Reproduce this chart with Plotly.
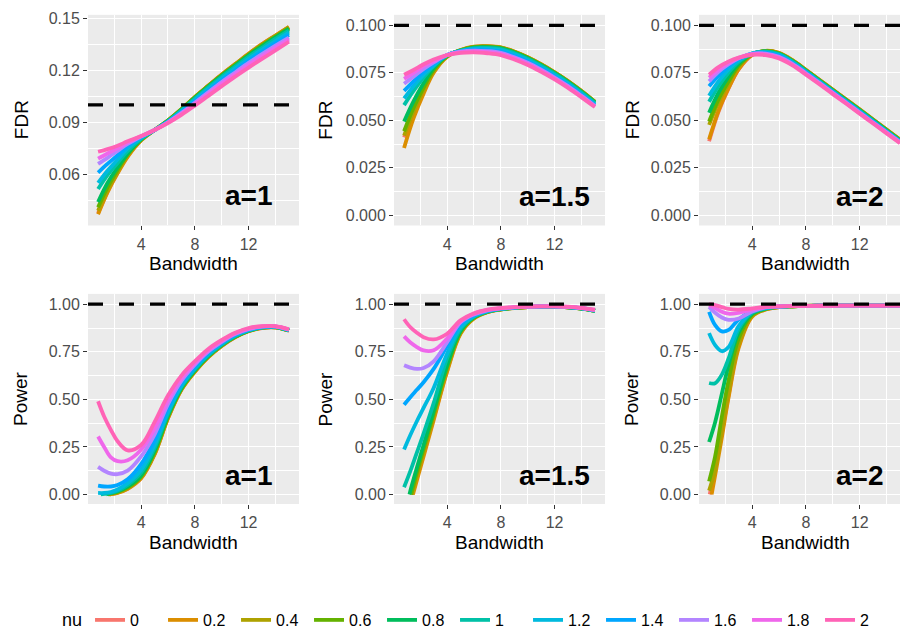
import plotly.graph_objects as go

# ---------------- data ----------------
NU = ["0", "0.2", "0.4", "0.6", "0.8", "1", "1.2", "1.4", "1.6", "1.8", "2"]
COLORS = ["#F8766D", "#DB8E00", "#AEA200", "#64B200", "#00BD5C", "#00C1A7",
          "#00BADE", "#00A6FF", "#B385FF", "#EF67EB", "#FF63B6"]

BW_FDR = [0.8, 1.5, 2.25, 3, 4, 5, 6, 7, 8, 9, 10, 11, 12, 13, 14, 15]
BW_POW = [0.8, 1.25, 1.75, 2.25, 3, 4, 5, 6, 7, 8, 9, 10, 11, 12, 13, 14, 15]

FDR_A1 = [
    [0.0375, 0.050, 0.061, 0.0705, 0.0795, 0.0855, 0.091, 0.0975, 0.1045, 0.111, 0.1175, 0.1235, 0.1295, 0.135, 0.140, 0.1448],
    [0.037, 0.0495, 0.0605, 0.070, 0.0795, 0.0855, 0.091, 0.0975, 0.1045, 0.111, 0.1175, 0.1235, 0.1295, 0.135, 0.140, 0.145],
    [0.039, 0.051, 0.0615, 0.071, 0.0798, 0.0855, 0.091, 0.0975, 0.1045, 0.111, 0.1173, 0.1233, 0.1292, 0.1347, 0.1398, 0.1447],
    [0.041, 0.0525, 0.0625, 0.0715, 0.080, 0.0855, 0.091, 0.0974, 0.1043, 0.1108, 0.1171, 0.123, 0.1289, 0.1343, 0.1394, 0.1443],
    [0.044, 0.055, 0.064, 0.072, 0.0802, 0.0855, 0.0908, 0.0972, 0.104, 0.1105, 0.1168, 0.1226, 0.1285, 0.1338, 0.1389, 0.1438],
    [0.0515, 0.0595, 0.0665, 0.0735, 0.0805, 0.0855, 0.0906, 0.0968, 0.1035, 0.110, 0.1161, 0.1219, 0.1277, 0.1329, 0.138, 0.1428],
    [0.055, 0.062, 0.0685, 0.075, 0.081, 0.0855, 0.0904, 0.0963, 0.1028, 0.1091, 0.1152, 0.1209, 0.1266, 0.1318, 0.1368, 0.1416],
    [0.061, 0.066, 0.071, 0.0765, 0.0815, 0.0855, 0.0902, 0.0958, 0.1021, 0.1082, 0.1142, 0.1198, 0.1254, 0.1306, 0.1355, 0.1403],
    [0.066, 0.0695, 0.0735, 0.0775, 0.0818, 0.0855, 0.090, 0.0953, 0.1013, 0.1073, 0.1132, 0.1187, 0.1242, 0.1293, 0.1342, 0.1388],
    [0.069, 0.072, 0.075, 0.0785, 0.082, 0.0855, 0.0898, 0.0948, 0.1005, 0.1063, 0.1121, 0.1176, 0.123, 0.128, 0.1329, 0.1376],
    [0.073, 0.0745, 0.0765, 0.079, 0.082, 0.0855, 0.0895, 0.0942, 0.0996, 0.1052, 0.1108, 0.1163, 0.1215, 0.1265, 0.1314, 0.1364],
]

FDR_A15 = [
    [0.041, 0.054, 0.0655, 0.0755, 0.0835, 0.0868, 0.0886, 0.0889, 0.0883, 0.0861, 0.0831, 0.0794, 0.0752, 0.0706, 0.0654, 0.0597],
    [0.0355, 0.051, 0.064, 0.075, 0.0835, 0.087, 0.0888, 0.089, 0.0884, 0.0862, 0.0832, 0.0795, 0.0753, 0.0707, 0.0655, 0.0598],
    [0.042, 0.0545, 0.066, 0.076, 0.0837, 0.0869, 0.0887, 0.0889, 0.0883, 0.0861, 0.0831, 0.0794, 0.0752, 0.0706, 0.0654, 0.0597],
    [0.0443, 0.0565, 0.0672, 0.0765, 0.0838, 0.0868, 0.0885, 0.0887, 0.0881, 0.0859, 0.0829, 0.0792, 0.075, 0.0704, 0.0652, 0.0596],
    [0.0494, 0.060, 0.0695, 0.0775, 0.084, 0.0867, 0.0883, 0.0885, 0.0879, 0.0857, 0.0827, 0.079, 0.0748, 0.0702, 0.065, 0.0594],
    [0.058, 0.0655, 0.0725, 0.0785, 0.0842, 0.0866, 0.088, 0.0881, 0.0875, 0.0853, 0.0823, 0.0786, 0.0744, 0.0698, 0.0646, 0.059],
    [0.0615, 0.068, 0.074, 0.079, 0.0843, 0.0865, 0.0876, 0.0876, 0.0869, 0.0847, 0.0817, 0.078, 0.0738, 0.0692, 0.064, 0.0585],
    [0.0655, 0.0705, 0.0755, 0.0797, 0.0844, 0.0863, 0.0872, 0.087, 0.0862, 0.0839, 0.081, 0.0773, 0.0731, 0.0686, 0.0634, 0.058],
    [0.0693, 0.073, 0.077, 0.0805, 0.0844, 0.0861, 0.0867, 0.0864, 0.0855, 0.0832, 0.0803, 0.0766, 0.0725, 0.068, 0.0629, 0.0576],
    [0.0718, 0.075, 0.0785, 0.0812, 0.0844, 0.0858, 0.0863, 0.0859, 0.0849, 0.0826, 0.0797, 0.0761, 0.072, 0.0675, 0.0625, 0.0573],
    [0.074, 0.0765, 0.0795, 0.082, 0.0843, 0.0855, 0.0858, 0.0853, 0.0843, 0.082, 0.0791, 0.0755, 0.0715, 0.067, 0.0621, 0.057],
]

FDR_A2 = [
    [0.039, 0.0545, 0.0668, 0.0768, 0.0843, 0.0865, 0.0854, 0.0816, 0.0765, 0.0713, 0.0661, 0.0609, 0.0557, 0.0504, 0.0451, 0.0398],
    [0.040, 0.055, 0.067, 0.077, 0.0845, 0.0866, 0.0855, 0.0817, 0.0766, 0.0714, 0.0662, 0.061, 0.0558, 0.0505, 0.0452, 0.0399],
    [0.0476, 0.0595, 0.0695, 0.0783, 0.0847, 0.0865, 0.0853, 0.0815, 0.0764, 0.0712, 0.066, 0.0608, 0.0556, 0.0503, 0.045, 0.0397],
    [0.0494, 0.061, 0.0705, 0.0788, 0.0848, 0.0864, 0.0852, 0.0814, 0.0763, 0.0711, 0.0659, 0.0607, 0.0555, 0.0502, 0.0449, 0.0396],
    [0.054, 0.0645, 0.073, 0.0798, 0.085, 0.0863, 0.085, 0.0812, 0.0761, 0.0709, 0.0657, 0.0605, 0.0553, 0.050, 0.0447, 0.0394],
    [0.0598, 0.068, 0.0752, 0.0808, 0.0851, 0.0861, 0.0847, 0.0809, 0.0758, 0.0706, 0.0654, 0.0602, 0.055, 0.0497, 0.0444, 0.0391],
    [0.063, 0.0705, 0.0768, 0.0815, 0.0851, 0.0858, 0.0843, 0.0805, 0.0755, 0.0703, 0.0651, 0.0599, 0.0547, 0.0494, 0.0441, 0.0389],
    [0.068, 0.0735, 0.0785, 0.0822, 0.0851, 0.0855, 0.0839, 0.0801, 0.0751, 0.070, 0.0648, 0.0596, 0.0544, 0.0492, 0.0439, 0.0387],
    [0.0705, 0.0755, 0.0795, 0.0826, 0.085, 0.0851, 0.0834, 0.0797, 0.0748, 0.0697, 0.0645, 0.0593, 0.0541, 0.0489, 0.0437, 0.0385],
    [0.0725, 0.0768, 0.0803, 0.0829, 0.0848, 0.0847, 0.083, 0.0793, 0.0744, 0.0694, 0.0642, 0.059, 0.0538, 0.0486, 0.0434, 0.0382],
    [0.074, 0.078, 0.081, 0.083, 0.0845, 0.0843, 0.0825, 0.0789, 0.074, 0.069, 0.0638, 0.0587, 0.0535, 0.0483, 0.0431, 0.038],
]

# power curves; a curve that enters the panel from 0 starts at the given bandwidth
POW_A1_START = [1.6, 1.65, 1.6, 1.5, 1.4, 1.0, None, None, None, None, None]
POW_A1 = [
    [None, None, 0.002, 0.010, 0.030, 0.085, 0.210, 0.400, 0.550, 0.645, 0.722, 0.780, 0.826, 0.858, 0.875, 0.878, 0.861],
    [None, None, 0.002, 0.008, 0.030, 0.085, 0.210, 0.400, 0.550, 0.645, 0.722, 0.781, 0.827, 0.859, 0.876, 0.879, 0.862],
    [None, None, 0.004, 0.011, 0.033, 0.090, 0.215, 0.405, 0.553, 0.647, 0.724, 0.782, 0.828, 0.860, 0.877, 0.879, 0.862],
    [None, None, 0.006, 0.014, 0.037, 0.095, 0.222, 0.410, 0.556, 0.650, 0.726, 0.784, 0.829, 0.860, 0.877, 0.879, 0.862],
    [None, None, 0.008, 0.017, 0.042, 0.100, 0.230, 0.415, 0.560, 0.653, 0.728, 0.786, 0.831, 0.861, 0.878, 0.880, 0.863],
    [None, 0.003, 0.008, 0.020, 0.050, 0.115, 0.245, 0.425, 0.566, 0.658, 0.732, 0.789, 0.833, 0.862, 0.878, 0.880, 0.863],
    [0.008, 0.008, 0.013, 0.026, 0.060, 0.130, 0.260, 0.435, 0.573, 0.664, 0.737, 0.792, 0.836, 0.864, 0.879, 0.881, 0.864],
    [0.047, 0.042, 0.042, 0.050, 0.080, 0.160, 0.285, 0.455, 0.585, 0.673, 0.744, 0.797, 0.839, 0.866, 0.880, 0.882, 0.865],
    [0.145, 0.125, 0.110, 0.107, 0.125, 0.200, 0.315, 0.475, 0.597, 0.682, 0.751, 0.802, 0.843, 0.869, 0.882, 0.883, 0.866],
    [0.305, 0.250, 0.195, 0.175, 0.180, 0.235, 0.345, 0.495, 0.610, 0.692, 0.758, 0.807, 0.847, 0.872, 0.884, 0.884, 0.867],
    [0.490, 0.410, 0.340, 0.280, 0.232, 0.260, 0.380, 0.520, 0.625, 0.700, 0.765, 0.812, 0.850, 0.875, 0.885, 0.885, 0.868],
]

POW_A15_START = [1.4, 1.46, 1.38, 1.32, 1.2, None, None, None, None, None, None]
POW_A15 = [
    [None, None, 0.090, 0.215, 0.400, 0.650, 0.848, 0.927, 0.959, 0.973, 0.981, 0.985, 0.987, 0.987, 0.984, 0.978, 0.967],
    [None, None, 0.073, 0.200, 0.390, 0.645, 0.845, 0.925, 0.958, 0.972, 0.980, 0.985, 0.987, 0.987, 0.984, 0.977, 0.966],
    [None, None, 0.100, 0.225, 0.410, 0.660, 0.850, 0.928, 0.959, 0.973, 0.981, 0.985, 0.987, 0.987, 0.984, 0.977, 0.966],
    [None, None, 0.115, 0.240, 0.425, 0.670, 0.855, 0.930, 0.960, 0.973, 0.981, 0.985, 0.987, 0.987, 0.984, 0.977, 0.965],
    [None, 0.015, 0.140, 0.260, 0.440, 0.680, 0.860, 0.932, 0.961, 0.974, 0.981, 0.986, 0.987, 0.987, 0.984, 0.977, 0.965],
    [0.038, 0.120, 0.220, 0.320, 0.480, 0.715, 0.870, 0.935, 0.962, 0.975, 0.982, 0.986, 0.988, 0.988, 0.985, 0.978, 0.966],
    [0.236, 0.310, 0.385, 0.455, 0.560, 0.740, 0.880, 0.938, 0.964, 0.976, 0.982, 0.986, 0.988, 0.988, 0.985, 0.978, 0.967],
    [0.472, 0.510, 0.550, 0.590, 0.660, 0.780, 0.895, 0.942, 0.966, 0.977, 0.983, 0.987, 0.988, 0.988, 0.985, 0.979, 0.968],
    [0.679, 0.667, 0.660, 0.665, 0.700, 0.800, 0.905, 0.946, 0.968, 0.978, 0.984, 0.987, 0.989, 0.989, 0.986, 0.980, 0.969],
    [0.831, 0.800, 0.775, 0.757, 0.758, 0.820, 0.910, 0.950, 0.970, 0.979, 0.985, 0.988, 0.989, 0.989, 0.986, 0.980, 0.970],
    [0.921, 0.880, 0.850, 0.827, 0.815, 0.845, 0.915, 0.953, 0.972, 0.980, 0.985, 0.988, 0.989, 0.989, 0.987, 0.981, 0.971],
]

POW_A2_START = [0.85, 0.99, None, None, None, None, None, None, None, None, None]
POW_A2 = [
    [None, 0.140, 0.320, 0.520, 0.780, 0.937, 0.973, 0.985, 0.989, 0.991, 0.992, 0.992, 0.993, 0.993, 0.993, 0.993, 0.993],
    [None, 0.100, 0.300, 0.510, 0.770, 0.935, 0.972, 0.985, 0.989, 0.991, 0.992, 0.992, 0.993, 0.993, 0.993, 0.993, 0.993],
    [0.020, 0.130, 0.340, 0.540, 0.790, 0.940, 0.974, 0.985, 0.989, 0.991, 0.992, 0.992, 0.993, 0.993, 0.993, 0.993, 0.993],
    [0.069, 0.200, 0.410, 0.600, 0.820, 0.945, 0.975, 0.986, 0.989, 0.991, 0.992, 0.992, 0.993, 0.993, 0.993, 0.993, 0.993],
    [0.276, 0.380, 0.530, 0.680, 0.850, 0.950, 0.977, 0.986, 0.989, 0.991, 0.992, 0.992, 0.993, 0.993, 0.993, 0.993, 0.993],
    [0.586, 0.585, 0.630, 0.715, 0.870, 0.955, 0.978, 0.987, 0.990, 0.991, 0.992, 0.992, 0.993, 0.993, 0.993, 0.993, 0.993],
    [0.848, 0.785, 0.753, 0.775, 0.885, 0.960, 0.980, 0.987, 0.990, 0.991, 0.992, 0.992, 0.993, 0.993, 0.993, 0.993, 0.993],
    [0.960, 0.890, 0.857, 0.865, 0.920, 0.965, 0.982, 0.988, 0.990, 0.991, 0.992, 0.992, 0.993, 0.993, 0.993, 0.993, 0.993],
    [0.986, 0.955, 0.930, 0.918, 0.925, 0.962, 0.983, 0.988, 0.990, 0.991, 0.992, 0.992, 0.993, 0.993, 0.993, 0.993, 0.993],
    [0.995, 0.980, 0.960, 0.950, 0.955, 0.972, 0.985, 0.989, 0.990, 0.991, 0.992, 0.992, 0.993, 0.993, 0.993, 0.993, 0.993],
    [1.000, 0.995, 0.985, 0.975, 0.972, 0.978, 0.986, 0.989, 0.990, 0.991, 0.992, 0.992, 0.993, 0.993, 0.993, 0.993, 0.993],
]

X_TICKS = [4, 8, 12]
X_MINOR = [2, 6, 10, 14]
FDR1_TICKS = [0.06, 0.09, 0.12, 0.15]
FDR1_LABELS = ["0.06", "0.09", "0.12", "0.15"]
FDR1_MINOR = [0.045, 0.075, 0.105, 0.135]
FDR_TICKS = [0.0, 0.025, 0.05, 0.075, 0.1]
FDR_LABELS = ["0.000", "0.025", "0.050", "0.075", "0.100"]
FDR_MINOR = [0.0125, 0.0375, 0.0625, 0.0875]
POW_TICKS = [0.0, 0.25, 0.5, 0.75, 1.0]
POW_LABELS = ["0.00", "0.25", "0.50", "0.75", "1.00"]
POW_MINOR = [0.125, 0.375, 0.625, 0.875]

FDR_LEVEL = 0.1
POW_LEVEL = 1.0
PANEL_LABELS = ["a=1", "a=1.5", "a=2", "a=1", "a=1.5", "a=2"]

# ---------------- layout helpers ----------------
W, H = 900, 637
def px(x):
    return x / W
def py(y):
    return 1 - y / H

COL_X = [(88, 299), (394, 605), (699, 900)]
ROW_Y = [(10, 224), (293.5, 507)]
X_RANGES = [[0.05, 15.75], [0.05, 15.75], [0.05, 15.0]]
Y_RANGES = [[0.0305, 0.1519], [-0.0053, 0.1055], [-0.0053, 0.1055],
            [-0.0502, 1.0543], [-0.0502, 1.0543], [-0.0502, 1.0543]]

panels = [
    (BW_FDR, FDR_A1, None, FDR_LEVEL, FDR1_TICKS, FDR1_LABELS, FDR1_MINOR, "FDR", 0.0475),
    (BW_FDR, FDR_A15, None, FDR_LEVEL, FDR_TICKS, FDR_LABELS, FDR_MINOR, "FDR", 0.01),
    (BW_FDR, FDR_A2, None, FDR_LEVEL, FDR_TICKS, FDR_LABELS, FDR_MINOR, "FDR", 0.01),
    (BW_POW, POW_A1, POW_A1_START, POW_LEVEL, POW_TICKS, POW_LABELS, POW_MINOR, "Power", 0.1),
    (BW_POW, POW_A15, POW_A15_START, POW_LEVEL, POW_TICKS, POW_LABELS, POW_MINOR, "Power", 0.1),
    (BW_POW, POW_A2, POW_A2_START, POW_LEVEL, POW_TICKS, POW_LABELS, POW_MINOR, "Power", 0.1),
]

FONT = "Liberation Sans, Arial, Helvetica, sans-serif"
fig = go.Figure()
shapes = []
annotations = []
layout = {}

for p, (grid, series, starts, level, yt, yl, ym, ytitle, label_y) in enumerate(panels):
    r, c = divmod(p, 3)
    sfx = "" if p == 0 else str(p + 1)
    xa, ya = "x" + sfx, "y" + sfx
    for i, vals in enumerate(series):
        xs, ys = [], []
        if starts is not None and starts[i] is not None:
            xs.append(starts[i]); ys.append(0.0)
        for xv, yv in zip(grid, vals):
            if yv is not None:
                xs.append(xv); ys.append(yv)
        fig.add_trace(go.Scatter(
            x=xs, y=ys, mode="lines", name=NU[i], legendgroup=NU[i],
            showlegend=(p == 0), xaxis=xa, yaxis=ya,
            line=dict(color=COLORS[i], width=3.8, shape="spline", smoothing=1.0),
            hoverinfo="skip"))
    x0, x1 = COL_X[c]
    y0, y1 = ROW_Y[r]
    layout["xaxis" + sfx] = dict(
        domain=[px(x0), px(x1)], range=X_RANGES[c], anchor=ya,
        tickmode="array", tickvals=X_TICKS, ticktext=[str(t) for t in X_TICKS],
        showgrid=True, gridcolor="white", gridwidth=1.4, zeroline=False,
        ticks="outside", ticklen=4, tickwidth=1, tickcolor="#333333",
        tickfont=dict(size=16, color="#4D4D4D", family=FONT),
        minor=dict(tickvals=X_MINOR, showgrid=True, gridcolor="white", gridwidth=0.7, ticks=""),
        showline=False, fixedrange=True)
    layout["yaxis" + sfx] = dict(
        domain=[py(y1), py(y0)], range=Y_RANGES[p], anchor=xa,
        tickmode="array", tickvals=yt, ticktext=yl,
        showgrid=True, gridcolor="white", gridwidth=1.4, zeroline=False,
        ticks="outside", ticklen=4, tickwidth=1, tickcolor="#333333",
        tickfont=dict(size=16, color="#4D4D4D", family=FONT),
        minor=dict(tickvals=ym, showgrid=True, gridcolor="white", gridwidth=0.7, ticks=""),
        showline=False, fixedrange=True)
    shapes.append(dict(type="line", xref=xa + " domain", x0=0, x1=1, yref=ya,
                       y0=level, y1=level, layer="above",
                       line=dict(color="black", width=3.3, dash="15px,16px")))
    annotations.append(dict(xref=xa, yref=ya, x=12, y=label_y, text="<b>" + PANEL_LABELS[p] + "</b>",
                            showarrow=False, xanchor="center", yanchor="middle",
                            font=dict(size=28, color="black", family=FONT)))
    # axis titles
    xcenter = [193.5, 499.5, 805][c]
    annotations.append(dict(xref="paper", yref="paper", x=px(xcenter), y=py([263, 546][r]),
                            text="Bandwidth", showarrow=False, xanchor="center", yanchor="middle",
                            font=dict(size=19, color="black", family=FONT)))
    annotations.append(dict(xref="paper", yref="paper", x=px([21, 325.5, 632][c]),
                            y=py((y0 + y1) / 2), text=ytitle, textangle=-90,
                            showarrow=False, xanchor="center", yanchor="middle",
                            font=dict(size=19, color="black", family=FONT)))

fig.update_layout(
    width=W, height=H, margin=dict(l=0, r=0, t=0, b=0),
    paper_bgcolor="white", plot_bgcolor="#EBEBEB",
    font=dict(family=FONT, color="black"),
    shapes=shapes, annotations=annotations,
    legend=dict(orientation="h", x=px(60), xanchor="left", y=py(625), yanchor="middle",
                title=dict(text="nu", side="left", font=dict(size=18, color="black")),
                font=dict(size=16, color="black"), itemwidth=30,
                entrywidth=28, entrywidthmode="pixels", bgcolor="rgba(0,0,0,0)"),
    **layout)

fig.write_html("out.html")
